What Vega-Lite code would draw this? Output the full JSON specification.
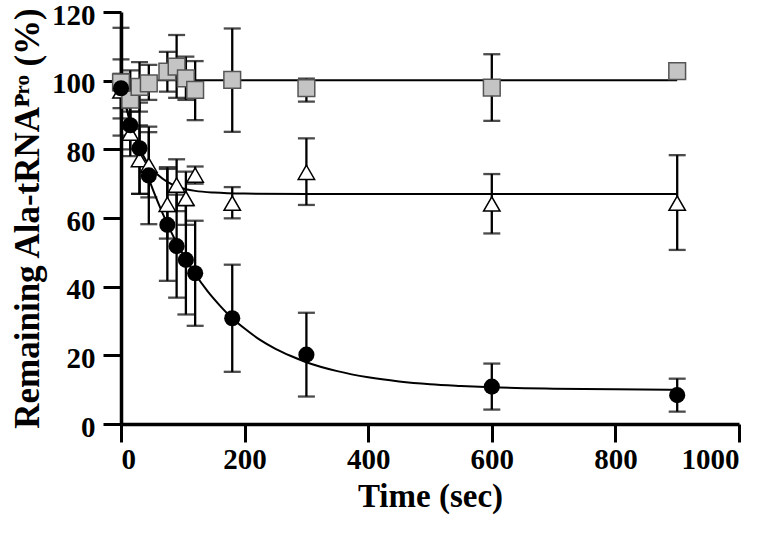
{
  "$schema": "https://vega.github.io/schema/vega-lite/v6.json",
  "width": 618,
  "height": 412,
  "autosize": {"type": "none"},
  "padding": {"left": 121, "top": 12, "right": 33, "bottom": 101},
  "datasets": {
    "pts": [
      {"s": "sq", "t": 0, "y": 99.5, "lo": 84, "hi": 115.4},
      {"s": "sq", "t": 15, "y": 94.5, "lo": 86, "hi": 103},
      {"s": "sq", "t": 30, "y": 98.2, "lo": 91, "hi": 105.4},
      {"s": "sq", "t": 45, "y": 99.2, "lo": 94.4, "hi": 104.6},
      {"s": "sq", "t": 75, "y": 102.6, "lo": 96.8, "hi": 108.4},
      {"s": "sq", "t": 90, "y": 104.1, "lo": 95, "hi": 113.3},
      {"s": "sq", "t": 105, "y": 100.7, "lo": 94.4, "hi": 107},
      {"s": "sq", "t": 120, "y": 97.3, "lo": 88.5, "hi": 105.7},
      {"s": "sq", "t": 180, "y": 100.2, "lo": 85.1, "hi": 115.2},
      {"s": "sq", "t": 300, "y": 97.8, "lo": 93.9, "hi": 100.6},
      {"s": "sq", "t": 600, "y": 98.0, "lo": 88.3, "hi": 107.7},
      {"s": "sq", "t": 900, "y": 102.8, "lo": null, "hi": null},
      {"s": "tr", "t": 0, "y": 97.0, "lo": 92, "hi": 102},
      {"s": "tr", "t": 15, "y": 84.7, "lo": 78, "hi": 91},
      {"s": "tr", "t": 30, "y": 77.0, "lo": 67, "hi": 87},
      {"s": "tr", "t": 45, "y": 75.4, "lo": 66, "hi": 85},
      {"s": "tr", "t": 75, "y": 64.0, "lo": 54, "hi": 74.8},
      {"s": "tr", "t": 90, "y": 69.6, "lo": 62, "hi": 77.1},
      {"s": "tr", "t": 105, "y": 65.7, "lo": 58, "hi": 73.5},
      {"s": "tr", "t": 120, "y": 72.5, "lo": 70, "hi": 75},
      {"s": "tr", "t": 180, "y": 64.3, "lo": 59.9, "hi": 69},
      {"s": "tr", "t": 300, "y": 73.3, "lo": 63.8, "hi": 83.2},
      {"s": "tr", "t": 600, "y": 64.1, "lo": 55.5, "hi": 72.8},
      {"s": "tr", "t": 900, "y": 64.3, "lo": 50.7, "hi": 78.3},
      {"s": "ci", "t": 0, "y": 97.8, "lo": 89, "hi": 106.2},
      {"s": "ci", "t": 15, "y": 87.0, "lo": 80, "hi": 94},
      {"s": "ci", "t": 30, "y": 80.3, "lo": 67, "hi": 93.6},
      {"s": "ci", "t": 45, "y": 72.4, "lo": 58.2, "hi": 86.6},
      {"s": "ci", "t": 75, "y": 58.0, "lo": 41.7, "hi": 74.3},
      {"s": "ci", "t": 90, "y": 51.8, "lo": 36.8, "hi": 66.8},
      {"s": "ci", "t": 105, "y": 47.8, "lo": 31.9, "hi": 63.7},
      {"s": "ci", "t": 120, "y": 43.9, "lo": 28.6, "hi": 59.2},
      {"s": "ci", "t": 180, "y": 30.8, "lo": 15.2, "hi": 46.4},
      {"s": "ci", "t": 300, "y": 20.2, "lo": 8.0, "hi": 32.4},
      {"s": "ci", "t": 600, "y": 10.9, "lo": 4.2, "hi": 17.6},
      {"s": "ci", "t": 900, "y": 8.4, "lo": 3.6, "hi": 13.2}
    ],
    "fit": [
      {"s": "sq", "t": 0, "y": 100.1},
      {"s": "sq", "t": 900, "y": 100.1},
      {"s": "tr", "t": 0, "y": 100},
      {"s": "tr", "t": 5, "y": 95.4},
      {"s": "tr", "t": 10, "y": 91.4},
      {"s": "tr", "t": 15, "y": 88.0},
      {"s": "tr", "t": 20, "y": 85.1},
      {"s": "tr", "t": 30, "y": 80.4},
      {"s": "tr", "t": 40, "y": 76.9},
      {"s": "tr", "t": 50, "y": 74.4},
      {"s": "tr", "t": 60, "y": 72.5},
      {"s": "tr", "t": 75, "y": 70.5},
      {"s": "tr", "t": 90, "y": 69.2},
      {"s": "tr", "t": 105, "y": 68.4},
      {"s": "tr", "t": 120, "y": 67.9},
      {"s": "tr", "t": 150, "y": 67.4},
      {"s": "tr", "t": 200, "y": 67.1},
      {"s": "tr", "t": 300, "y": 67.0},
      {"s": "tr", "t": 600, "y": 67.0},
      {"s": "tr", "t": 900, "y": 67.0},
      {"s": "ci", "t": 0, "y": 98.0},
      {"s": "ci", "t": 10, "y": 91.2},
      {"s": "ci", "t": 20, "y": 85.0},
      {"s": "ci", "t": 30, "y": 79.2},
      {"s": "ci", "t": 45, "y": 71.4},
      {"s": "ci", "t": 60, "y": 64.5},
      {"s": "ci", "t": 75, "y": 58.3},
      {"s": "ci", "t": 90, "y": 52.8},
      {"s": "ci", "t": 105, "y": 48.0},
      {"s": "ci", "t": 120, "y": 43.7},
      {"s": "ci", "t": 140, "y": 38.7},
      {"s": "ci", "t": 160, "y": 34.5},
      {"s": "ci", "t": 180, "y": 30.8},
      {"s": "ci", "t": 200, "y": 27.8},
      {"s": "ci", "t": 225, "y": 24.5},
      {"s": "ci", "t": 250, "y": 21.9},
      {"s": "ci", "t": 275, "y": 19.8},
      {"s": "ci", "t": 300, "y": 18.0},
      {"s": "ci", "t": 350, "y": 15.4},
      {"s": "ci", "t": 400, "y": 13.6},
      {"s": "ci", "t": 450, "y": 12.4},
      {"s": "ci", "t": 500, "y": 11.6},
      {"s": "ci", "t": 550, "y": 11.1},
      {"s": "ci", "t": 600, "y": 10.7},
      {"s": "ci", "t": 700, "y": 10.3},
      {"s": "ci", "t": 800, "y": 10.1},
      {"s": "ci", "t": 900, "y": 10.0}
    ]
  },
  "encoding": {
    "x": {
      "field": "t", "type": "quantitative",
      "scale": {"domain": [0, 1000], "nice": false},
      "axis": {"values": [0, 200, 400, 600, 800, 1000], "format": "d", "title": "Time (sec)"}
    }
  },
  "layer": [
    {
      "data": {"name": "pts"},
      "transform": [{"filter": "datum.lo != null"}],
      "mark": {"type": "rule", "color": "black", "strokeWidth": 2.3},
      "encoding": {
        "y": {"field": "lo", "type": "quantitative"},
        "y2": {"field": "hi"}
      }
    },
    {
      "data": {"name": "pts"},
      "transform": [{"filter": "datum.lo != null"}],
      "mark": {"type": "tick", "color": "black", "thickness": 2.3, "size": 17, "orient": "horizontal"},
      "encoding": {"y": {"field": "lo", "type": "quantitative"}}
    },
    {
      "data": {"name": "pts"},
      "transform": [{"filter": "datum.lo != null"}],
      "mark": {"type": "tick", "color": "black", "thickness": 2.3, "size": 17, "orient": "horizontal"},
      "encoding": {"y": {"field": "hi", "type": "quantitative"}}
    },
    {
      "data": {"name": "fit"},
      "mark": {"type": "line", "color": "black", "strokeWidth": 2, "interpolate": "monotone"},
      "encoding": {
        "y": {"field": "y", "type": "quantitative"},
        "detail": {"field": "s"}
      }
    },
    {
      "data": {"name": "pts"},
      "transform": [{"filter": "datum.s == 'tr'"}],
      "mark": {"type": "point", "shape": "triangle-up", "filled": true, "fill": "white", "stroke": "black", "strokeWidth": 1.5, "size": 270, "opacity": 1},
      "encoding": {"y": {"field": "y", "type": "quantitative"}}
    },
    {
      "data": {"name": "pts"},
      "transform": [{"filter": "datum.s == 'sq'"}],
      "mark": {"type": "point", "shape": "square", "filled": true, "fill": "#c4c4c4", "stroke": "#555555", "strokeWidth": 1.5, "size": 280, "opacity": 1},
      "encoding": {"y": {"field": "y", "type": "quantitative"}}
    },
    {
      "data": {"name": "pts"},
      "transform": [{"filter": "datum.s == 'ci'"}],
      "mark": {"type": "point", "shape": "circle", "filled": true, "fill": "black", "size": 260, "opacity": 1},
      "encoding": {
        "y": {
          "field": "y", "type": "quantitative",
          "scale": {"domain": [0, 120], "nice": false},
          "axis": {"values": [0, 20, 40, 60, 80, 100, 120], "title": "Remaining Ala-tRNAᴾʳᵒ (%)"}
        }
      }
    }
  ],
  "resolve": {"scale": {"y": "shared"}},
  "config": {
    "view": {"stroke": null},
    "font": "Liberation Serif",
    "axis": {
      "grid": false,
      "domainColor": "black",
      "domainWidth": 3.5,
      "tickColor": "black",
      "tickWidth": 3,
      "tickSize": 18,
      "labelFont": "Liberation Serif",
      "labelFontWeight": "bold",
      "labelFontSize": 29,
      "labelColor": "black",
      "titleFont": "Liberation Serif",
      "titleFontWeight": "bold",
      "titleFontSize": 33,
      "titleColor": "black"
    },
    "axisY": {"titlePadding": 6, "labelPadding": 8, "labelOffset": 3, "titleFontSize": 35},
    "axisX": {"titlePadding": 6, "labelPadding": 3}
  }
}
